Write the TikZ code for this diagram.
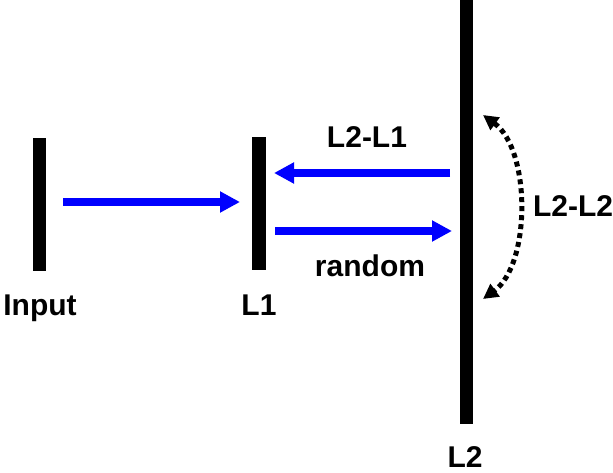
\documentclass[tikz,border=0pt]{standalone}
\usepackage{fontspec}
\setmainfont{Liberation Sans}
\usetikzlibrary{arrows.meta}
\begin{document}
\begin{tikzpicture}[x=1pt,y=-1pt,
  bar/.style={fill=black,draw=none,inner sep=0pt,outer sep=0pt},
  lbl/.style={font=\fontsize{30}{36}\selectfont\bfseries,anchor=base,inner sep=0pt},
  beam/.style={draw={rgb,255:red,0;green,0;blue,255},line width=7.5pt,-{Triangle[length=20pt,width=20pt]}},
  swing/.style={draw=black,line width=5pt,dash pattern=on 5pt off 4pt,{Triangle[length=15pt,width=15pt]}-{Triangle[length=15pt,width=15pt]}}]
\useasboundingbox (0,0) rectangle (613,473);
% bars
\node[bar,minimum width=13pt,minimum height=133pt] (input) at (39.5,204.5) {};
\node[bar,minimum width=14pt,minimum height=133pt] (l1) at (259,203.5) {};
\node[bar,minimum width=13pt,minimum height=424pt] (l2) at (466.5,212) {};
% labels
\node[lbl] (tin) at (40,315) {Input};
\node[lbl] (tl1) at (259,315) {L1};
\node[lbl] (tl2) at (465,467) {L2};
\node[lbl] (tl21) at (367,148) {L2-L1};
\node[lbl] (trand) at (370,276) {random};
\node[lbl] (tl22) at (573,217) {L2-L2};
% arrow coordinates
\coordinate (a0) at (63,202);
\coordinate (a1) at (240,202);
\coordinate (b0) at (450,173);
\coordinate (b1) at (274,173);
\coordinate (c0) at (275,231);
\coordinate (c1) at (452,231);
\coordinate (d0) at (483,115);
\coordinate (d1) at (483,299);
\draw[beam] (a0) -- (a1);
\draw[beam] (b0) -- (b1);
\draw[beam] (c0) -- (c1);
\draw[swing] (d0) .. controls (531,150) and (531,264) .. (d1);
\end{tikzpicture}
\end{document}
